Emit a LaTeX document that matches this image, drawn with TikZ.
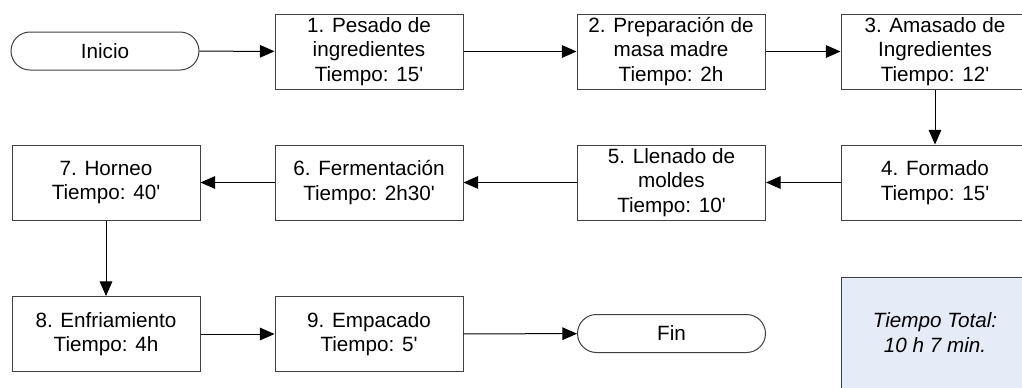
\documentclass[tikz,border=0pt]{standalone}
\usepackage{fontspec}
\setmainfont{Liberation Sans}[Ligatures=TeXOff]
\usetikzlibrary{shapes.misc,arrows.meta}
\definecolor{boxline}{RGB}{64,64,64}
\definecolor{totalfill}{RGB}{230,236,247}
\begin{document}
\begin{tikzpicture}[x=0.75pt,y=-0.75pt,
  txt/.style={font=\fontsize{15.5}{18.5}\selectfont, align=center, text=black},
  proc/.style={txt, draw=boxline, line width=0.75pt, fill=white, minimum width=141pt, minimum height=56.25pt, inner sep=0pt},
  term/.style={txt, draw=boxline, line width=0.75pt, fill=white, rounded rectangle, minimum width=141pt, minimum height=28.5pt, inner sep=0pt},
  conn/.style={line width=0.75pt, draw=black, -{Triangle[length=11pt,width=9.5pt]}}]
\useasboundingbox (0,0) rectangle (1022,387);
\clip (0,0) rectangle (1022,387);
\fill[white] (0,0) rectangle (1022,387);
% row 1
\node[term] (inicio) at (105,51) {Inicio};
\node[proc] (p1) at (369,51.5) {1. Pesado de\\ingredientes\\Tiempo: 15'};
\node[proc] (p2) at (671,51.5) {2. Preparación de\\masa madre\\Tiempo: 2h};
\node[proc] (p3) at (935,51.5) {3. Amasado de\\Ingredientes\\Tiempo: 12'};
% row 2
\node[proc] (p4) at (935,182.5) {4. Formado\\Tiempo: 15'};
\node[proc] (p5) at (671.5,182.5) {5. Llenado de\\moldes\\Tiempo: 10'};
\node[proc] (p6) at (369,182.5) {6. Fermentación\\Tiempo: 2h30'};
\node[proc] (p7) at (106,182.5) {7. Horneo\\Tiempo: 40'};
% row 3
\node[proc] (p8) at (106,334) {8. Enfriamiento\\Tiempo: 4h};
\node[proc] (p9) at (369,334) {9. Empacado\\Tiempo: 5'};
\node[term] (fin) at (671.5,333.5) {Fin};
\node[txt, draw=boxline, line width=0.75pt, fill=totalfill, minimum width=141pt, minimum height=83.25pt, inner sep=0pt, font=\fontsize{15.5}{18.5}\selectfont\itshape] (total) at (935,332.5) {Tiempo Total:\\ 10 h 7 min.};
% connectors
\draw[conn] (inicio) -- (p1);
\draw[conn] (p1) -- (p2);
\draw[conn] (p2) -- (p3);
\draw[conn] (p3) -- (p4);
\draw[conn] (p4) -- (p5);
\draw[conn] (p5) -- (p6);
\draw[conn] (p6) -- (p7);
\draw[conn] (p7) -- (p8);
\draw[conn] (p8) -- (p9);
\draw[conn] (p9) -- (fin);
\end{tikzpicture}
\end{document}
